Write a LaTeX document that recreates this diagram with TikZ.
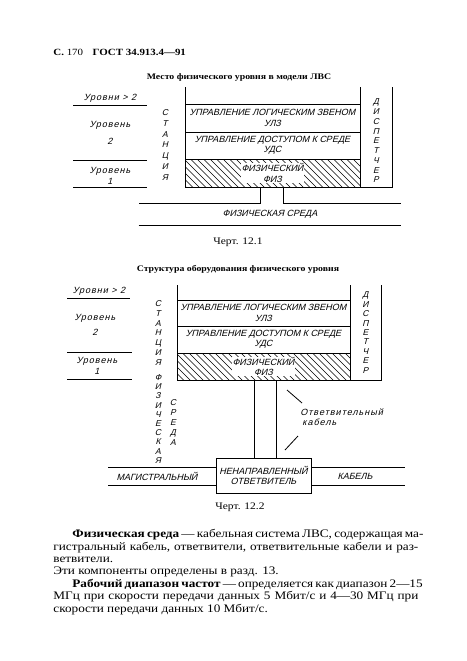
\documentclass[tikz,border=0pt]{standalone}
\usepackage{fontspec}
\setmainfont{Liberation Serif}[FakeStretch=1.15]
\newfontfamily\gostfont{Liberation Sans}[FakeSlant=0.25]
\usetikzlibrary{positioning}
\newcommand{\gostsize}{\gostfont\fontsize{9}{10.5}\selectfont}
\begin{document}
\begin{tikzpicture}[x=1pt, y=-1pt, line width=0.8pt,
  every node/.style={inner sep=0pt},
  band/.style={draw, outer sep=0pt, minimum height=27pt, align=center, font=\gostsize},
  sketch/.style={font=\gostsize, align=center},
  lowtext/.style={font=\gostsize\addfontfeature{LetterSpace=11}, align=center},
  column/.style={align=center, font=\gostfont\fontsize{8.5}{#1}\selectfont},
  hatch/.style={path picture={
    \foreach \k in {-40,-33.5,...,200}
      \draw[line width=0.45pt] ([xshift=\k pt]path picture bounding box.north west) -- ++(32pt,-32pt);}},
  heading/.style={font=\bfseries\fontsize{8.5}{11}\selectfont},
  caption/.style={font=\fontsize{10}{12}\selectfont}]
\useasboundingbox (0,0) rectangle (466,661);

\node[anchor=base west, font=\fontsize{9.5}{12}\selectfont] (page) at (53,56)
  {{\bfseries С.}\ 170\quad{\bfseries ГОСТ 34.913.4—91}};

% Черт. 12.1
\node[heading, anchor=base] (titleA) at (239,80) {Место физического уровня в модели ЛВС};

\node[lowtext] (lvlA3) at (110,98) {Уровни > 2};
\draw (73,105) -- (147,105);
\node[lowtext] (lvlA2) at (110,133) {Уровень\\[6pt]2};
\draw (73,160) -- (147,160);
\node[lowtext] (lvlA1) at (110,176) {Уровень\\1};
\draw (73,187) -- (147,187);
\node[column=10.7] (stA) at (165,145) {С\\Т\\А\\Н\\Ц\\И\\Я};

\node[band, minimum width=175pt, minimum height=28pt] (ulzA) at (272.5,118) {УПРАВЛЕНИЕ ЛОГИЧЕСКИМ ЗВЕНОМ\\УЛЗ};
\node[band, minimum width=175pt, below=0pt of ulzA] (udsA) {УПРАВЛЕНИЕ ДОСТУПОМ К СРЕДЕ\\УДС};
\node[band, hatch, minimum width=175pt, minimum height=28pt, below=0pt of udsA] (fizA) {};
\node[sketch, fill=white, inner sep=0.5pt] (fizAtxt) at (fizA) {ФИЗИЧЕСКИЙ\\ФИЗ};
\coordinate (dispAtop) at ([yshift=17pt]ulzA.north east);
\draw ([yshift=17pt]ulzA.north west) -- (ulzA.north west);
\draw (dispAtop) -- (ulzA.north east);
\draw ([xshift=32pt]dispAtop) |- (fizA.south west);
\node[column=9.75] (dispA) at (376,141) {Д\\И\\С\\П\\Е\\Т\\Ч\\Е\\Р};

\node[sketch, minimum width=262pt, minimum height=21pt] (medA) at (270,214.5) {ФИЗИЧЕСКАЯ СРЕДА};
\draw ([xshift=-12.5pt]fizA.south) |- (medA.north west);
\draw ([xshift=10.5pt]fizA.south) |- (medA.north east);
\draw (medA.south west) -- (medA.south east);

\node[caption] (capA) at (238,242) {Черт. 12.1};

% Черт. 12.2
\node[heading, anchor=base] (titleB) at (238,271) {Структура оборудования физического уровня};

\node[lowtext] (lvlB3) at (99,291) {Уровни > 2};
\draw (67,298) -- (130,298);
\node[lowtext] (lvlB2) at (95,325) {Уровень\\[4pt]2};
\draw (67,352) -- (132,352);
\node[lowtext] (lvlB1) at (97,366) {Уровень\\1};
\draw (67,379) -- (132,379);
\node[column=9.8] (stB) at (158,333) {С\\Т\\А\\Н\\Ц\\И\\Я};
\node[column=9.2] (phB) at (158,419) {Ф\\И\\З\\И\\Ч\\Е\\С\\К\\А\\Я};
\node[column=10] (srB) at (173,423) {С\\Р\\Е\\Д\\А};

\node[band, minimum width=173pt, minimum height=26pt] (ulzB) at (263.5,313) {УПРАВЛЕНИЕ ЛОГИЧЕСКИМ ЗВЕНОМ\\УЛЗ};
\node[band, minimum width=173pt, below=0pt of ulzB] (udsB) {УПРАВЛЕНИЕ ДОСТУПОМ К СРЕДЕ\\УДС};
\node[band, hatch, minimum width=173pt, below=0pt of udsB] (fizB) {};
\node[sketch, fill=white, inner sep=0.5pt] (fizBtxt) at (fizB) {ФИЗИЧЕСКИЙ\\ФИЗ};
\coordinate (dispBtop) at ([yshift=15pt]ulzB.north east);
\draw ([yshift=15pt]ulzB.north west) -- (ulzB.north west);
\draw (dispBtop) -- (ulzB.north east);
\draw ([xshift=31pt]dispBtop) |- (fizB.south west);
\node[column=9.4] (dispB) at (365.5,332.5) {Д\\И\\С\\П\\Е\\Т\\Ч\\Е\\Р};

\node[band, minimum width=95pt, minimum height=35pt] (coup) at (263.5,475.5) {НЕНАПРАВЛЕННЫЙ\\ОТВЕТВИТЕЛЬ};
\draw ([xshift=-9.5pt]fizB.south) -- ([xshift=-9.5pt]coup.north);
\draw ([xshift=12.5pt]fizB.south) -- ([xshift=12.5pt]coup.north);
\draw ([yshift=8.5pt]coup.west) -- ++(-108,0);
\draw ([yshift=-9.5pt]coup.west) -- ++(-108,0);
\draw ([yshift=8.5pt]coup.east) -- ++(94,0);
\draw ([yshift=-9.5pt]coup.east) -- ++(94,0);
\node[sketch] (trunkL) at (157,476) {МАГИСТРАЛЬНЫЙ};
\node[sketch] (trunkR) at (355,476) {КАБЕЛЬ};
\node[lowtext, align=left, anchor=west] (dropLbl) at (300,417) {Ответвительный\\\hspace*{2pt}кабель};
\draw (302,403) -- (287,390);
\draw (298,436) -- (285,450);

\node[caption] (capB) at (240,507) {Черт. 12.2};

% text below
\node[anchor=north west, align=left, font=\fontsize{11.5}{12.4}\selectfont] (body) at (53,529) {%
\makebox[365pt][s]{\hspace*{19pt}{\bfseries Физическая среда} — кабельная система ЛВС, содержащая ма-}\\
\makebox[365pt][s]{гистральный кабель, ответвители, ответвительные кабели и раз-}\\
ветвители.\\
Эти компоненты определены в разд. 13.\\
\makebox[365pt][s]{\hspace*{19pt}{\bfseries Рабочий диапазон частот} — определяется как диапазон 2—15}\\
\makebox[365pt][s]{МГц при скорости передачи данных 5 Мбит/с и 4—30 МГц при}\\
скорости передачи данных 10 Мбит/с.};
\end{tikzpicture}
\end{document}
